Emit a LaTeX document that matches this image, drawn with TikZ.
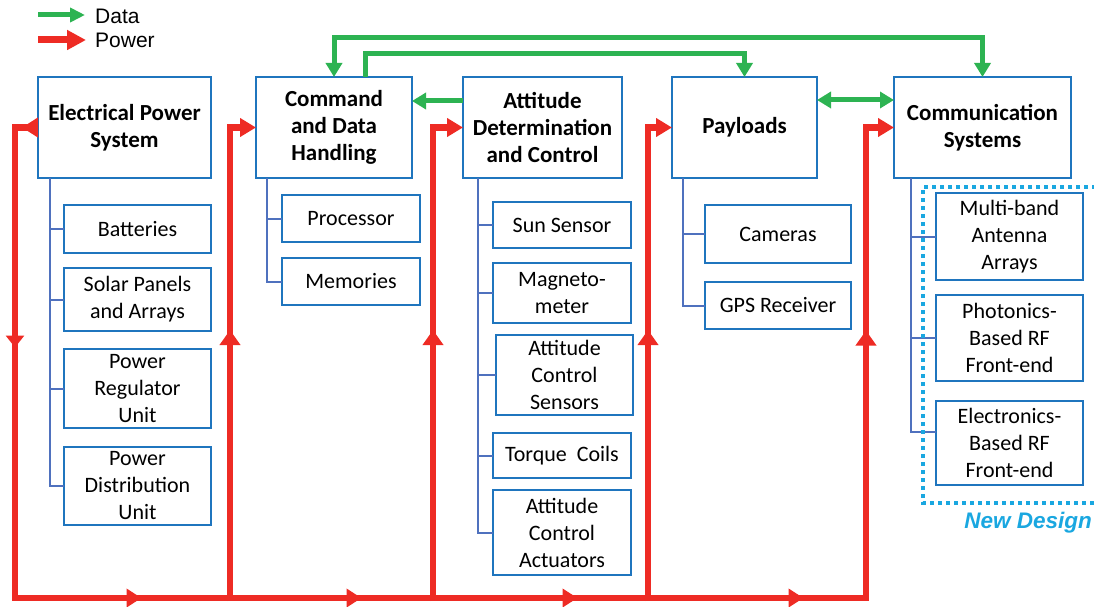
\documentclass[tikz,border=0pt]{standalone}
\usepackage{fontspec}
\setmainfont{Carlito}
\newfontfamily\arialf{Liberation Sans}
\usetikzlibrary{arrows.meta,decorations.markings}
\definecolor{boxblue}{RGB}{31,117,190}
\definecolor{treeblue}{RGB}{79,113,190}
\definecolor{pred}{RGB}{238,43,36}
\definecolor{dgreen}{RGB}{45,179,82}
\definecolor{ncyan}{RGB}{26,167,224}
\begin{document}
\begin{tikzpicture}[x=1pt,y=-1pt,
  mainbox/.style={draw=boxblue,line width=2.5pt,inner sep=0pt,outer sep=0pt,align=center,
    font=\fontsize{23}{27}\selectfont\bfseries},
  subbox/.style={draw=boxblue,line width=2.5pt,inner sep=0pt,outer sep=0pt,align=center,
    font=\fontsize{22}{27}\selectfont},
  tree/.style={draw=treeblue,line width=2pt},
  data/.style={draw=dgreen,color=dgreen,line width=5pt},
  dtip/.style={arrows={-Triangle[length=14pt,width=16pt]}},
  dtips/.style={arrows={Triangle[length=14pt,width=16pt]-Triangle[length=14pt,width=16pt]}},
  power/.style={color=pred,line width=6pt},
  ptip/.style={arrows={-Triangle[length=16pt,width=18pt]}},
  pmark/.style={postaction={decorate},decoration={markings,#1}},
  legtext/.style={anchor=west,inner sep=0pt,font=\arialf\fontsize{21}{25}\selectfont},
]
\useasboundingbox (0,0) rectangle (1094,607);

% ---------------- legend ----------------
\node[legtext] (ldata) at (95,16) {Data};
\node[legtext] (lpow) at (95,40) {Power};
\coordinate (lg) at (38,15);
\coordinate (lr) at (38,40);
\draw[data,arrows={-Triangle[length=15pt,width=14pt]}] (lg) -- ([xshift=-10pt]ldata.west |- lg);
\draw[power,line width=7pt,arrows={-Triangle[length=19pt,width=19pt]}] (lr) -- ([xshift=-9pt]lpow.west |- lr);

% ---------------- main boxes ----------------
\node[mainbox,minimum width=173pt,minimum height=101pt] (eps) at (124.5,127.5) {Electrical Power\\System};
\node[mainbox,minimum width=156pt,minimum height=101pt] (cdh) at (334,127.5) {Command\\and Data\\Handling};
\node[mainbox,minimum width=159pt,minimum height=101pt] (adc) at (542.5,127.5) {Attitude\\Determination\\and Control};
\node[mainbox,minimum width=145pt,minimum height=101pt] (pay) at (744.5,127.5) {Payloads};
\node[mainbox,minimum width=177pt,minimum height=101pt] (com) at (982.5,127.5) {Communication\\Systems};

% ---------------- sub boxes ----------------
\node[subbox,minimum width=147pt,minimum height=48pt] (bat) at (137.5,229) {Batteries};
\node[subbox,minimum width=147pt,minimum height=63pt] (sol) at (137.5,299.5) {Solar Panels\\and Arrays};
\node[subbox,minimum width=147pt,minimum height=79pt] (pru) at (137.5,388.5) {Power\\Regulator\\Unit};
\node[subbox,minimum width=147pt,minimum height=78pt] (pdu) at (137.5,486) {Power\\Distribution\\Unit};

\node[subbox,minimum width=138pt,minimum height=47pt] (proc) at (351,218.5) {Processor};
\node[subbox,minimum width=138pt,minimum height=47pt] (mem) at (351,281.5) {Memories};

\node[subbox,minimum width=138pt,minimum height=46pt] (sun) at (562,225) {Sun Sensor};
\node[subbox,minimum width=138pt,minimum height=60pt] (mag) at (562,293) {Magneto-\\meter};
\node[subbox,minimum width=137pt,minimum height=80pt] (acs) at (564.5,375) {Attitude\\Control\\Sensors};
\node[subbox,minimum width=138pt,minimum height=45pt] (tor) at (562,455.5) {Torque\ \ Coils};
\node[subbox,minimum width=138pt,minimum height=85pt] (aca) at (562,532.5) {Attitude\\Control\\Actuators};

\node[subbox,minimum width=146pt,minimum height=58pt] (cam) at (778,234) {Cameras};
\node[subbox,minimum width=146pt,minimum height=47pt] (gps) at (778,305.5) {GPS Receiver};

\node[subbox,minimum width=147pt,minimum height=87pt] (mba) at (1009.5,236.5) {Multi-band\\Antenna\\Arrays};
\node[subbox,minimum width=147pt,minimum height=86pt] (pho) at (1009.5,338) {Photonics-\\Based RF\\Front-end};
\node[subbox,minimum width=147pt,minimum height=84pt] (ele) at (1009.5,443) {Electronics-\\Based RF\\Front-end};

% ---------------- tree connectors ----------------
\draw[tree] ([xshift=12pt]eps.south west) |- (bat.west);
\draw[tree] ([xshift=12pt]eps.south west) |- (sol.west);
\draw[tree] ([xshift=12pt]eps.south west) |- (pru.west);
\draw[tree] ([xshift=12pt]eps.south west) |- (pdu.west);

\draw[tree] ([xshift=11pt]cdh.south west) |- (proc.west);
\draw[tree] ([xshift=11pt]cdh.south west) |- (mem.west);

\draw[tree] ([xshift=15pt]adc.south west) |- (sun.west);
\draw[tree] ([xshift=15pt]adc.south west) |- (mag.west);
\draw[tree] ([xshift=15pt]adc.south west) |- (acs.west);
\draw[tree] ([xshift=15pt]adc.south west) |- (tor.west);
\draw[tree] ([xshift=15pt]adc.south west) |- (aca.west);

\draw[tree] ([xshift=11pt]pay.south west) |- (cam.west);
\draw[tree] ([xshift=11pt]pay.south west) |- (gps.west);

\draw[tree] ([xshift=17pt]com.south west) |- (mba.west);
\draw[tree] ([xshift=17pt]com.south west) |- (pho.west);
\draw[tree] ([xshift=17pt]com.south west) |- (ele.west |- 0,432);

% ---------------- new design frame ----------------
\coordinate (nd1) at (1096,187);
\coordinate (nd2) at (923,187);
\coordinate (nd3) at (923,503);
\coordinate (nd4) at (1096,503);
\draw[ncyan,line width=4pt,dash pattern=on 4pt off 4pt] (nd1) -- (nd2) -- (nd3) -- (nd4);
\node[anchor=east,inner sep=0pt,text=ncyan,font=\arialf\bfseries\itshape\fontsize{22.5}{26}\selectfont] (nd) at (1092,523) {New Design};

% ---------------- data connectors ----------------
\coordinate (d1) at (0,101);
\coordinate (d2) at (0,38);
\coordinate (d3) at (0,54);
\coordinate (d4) at (0,100);
\draw[data,dtip] (adc.west |- d1) -- (cdh.east |- d1);
\draw[data,dtips] (cdh.north) -- (cdh.north |- d2) -| (com.north);
\draw[data,dtip] ([xshift=31pt]cdh.north) -- ([xshift=31pt]cdh.north |- d3) -| (pay.north);
\draw[data,dtips] (pay.east |- d4) -- (com.west |- d4);

% ---------------- power connectors ----------------
\coordinate (pl) at (15,127.5);
\coordinate (bl) at (15,598);
\coordinate (br) at (866,598);
\coordinate (rc) at (866,127.5);
\coordinate (j1) at (230,601);
\coordinate (j2) at (433,601);
\coordinate (j3) at (648,601);
\coordinate (c1) at (230,127.5);
\coordinate (c2) at (433,127.5);
\coordinate (c3) at (648,127.5);

\draw[power,ptip,pmark={
    mark=at position 16pt with {\arrow{Triangle[length=16pt,width=19pt]}},
    mark=at position 243pt with {\arrow{Triangle[length=12pt,width=18pt]}},
    mark=at position 620pt with {\arrow{Triangle[length=15pt,width=18pt]}},
    mark=at position 840pt with {\arrow{Triangle[length=15pt,width=18pt]}},
    mark=at position 1056pt with {\arrow{Triangle[length=15pt,width=18pt]}},
    mark=at position 1282pt with {\arrow{Triangle[length=15pt,width=18pt]}},
    mark=at position 1612pt with {\arrow{Triangle[length=15pt,width=20pt]}}}]
  (eps.west) -- (pl) -- (bl) -- (br) -- (rc) -- (com.west);

\draw[power,ptip,pmark={mark=at position 271pt with {\arrow{Triangle[length=15pt,width=20pt]}}}]
  (j1) -- (c1) -- (cdh.west);
\draw[power,ptip,pmark={mark=at position 271pt with {\arrow{Triangle[length=15pt,width=20pt]}}}]
  (j2) -- (c2) -- (adc.west);
\draw[power,ptip,pmark={mark=at position 271pt with {\arrow{Triangle[length=15pt,width=20pt]}}}]
  (j3) -- (c3) -- (pay.west);
\end{tikzpicture}
\end{document}
